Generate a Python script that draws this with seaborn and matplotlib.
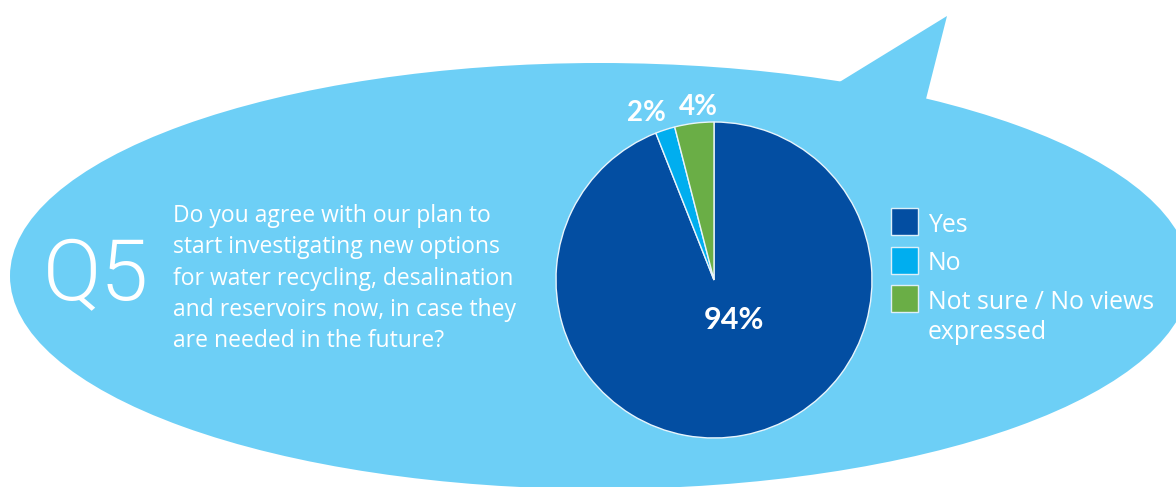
import matplotlib
matplotlib.use("Agg")
import matplotlib.pyplot as plt
from matplotlib.patches import Ellipse, Polygon, Rectangle
import seaborn as sns

# Survey answers for Q5
categories = ["Yes", "No", "Not sure / No views\nexpressed"]
shares = [94, 2, 4]
colors = ["#034EA2", "#00AEEF", "#6AAE46"]
question_lines = ["Do you agree with our plan to",
                  "start investigating new options",
                  "for water recycling, desalination",
                  "and reservoirs now, in case they",
                  "are needed in the future?"]
question_id = "Q5"

sns.set_style("white")
plt.rcParams["font.family"] = ["Open Sans", "DejaVu Sans"]

W, H = 1176, 487
fig = plt.figure(figsize=(W / 100, H / 100), dpi=100)
ax = fig.add_axes([0, 0, 1, 1])

def py(y):
    """Convert a top-down pixel row to the axes' upward y."""
    return H - y

bubble = "#6DCFF6"
# speech bubble body and tail
ax.add_patch(Ellipse((600, py(276)), 2 * 590, 2 * 213, facecolor=bubble,
                     edgecolor="none", zorder=0))
ax.add_patch(Polygon([(826, py(100)), (833, py(86)), (947, py(16)),
                      (925, py(103)), (935, py(125))], closed=True,
                     facecolor=bubble, edgecolor="none", zorder=0))

# pie
cx, cy, r = 714, py(280), 158
palette = sns.color_palette(colors)
wedges, _ = ax.pie(shares, colors=palette, startangle=90,
                   counterclock=False, center=(cx, cy), radius=r,
                   wedgeprops=dict(edgecolor="#E8F4FB", linewidth=1.0))

ax.set_xlim(0, W)
ax.set_ylim(0, H)
ax.set_aspect("auto")
ax.axis("off")

# value labels
label_pos = [(734, py(320)), (646, py(113)), (698, py(107))]
label_size = [22, 20, 20]
for v, (x, y), s in zip(shares, label_pos, label_size):
    ax.text(x, y, f"{v}%", color="white", fontsize=s, fontweight="bold",
            family=["Lato", "DejaVu Sans"],
            ha="center", va="center", zorder=5)

# question
ax.text(96, py(277), question_id, color="white", fontsize=62,
        fontweight=300, family=["Roboto", "DejaVu Sans"],
        ha="center", va="center")
for j, line in enumerate(question_lines):
    ax.text(173, py(222 + 31.3 * j), line, color="white", fontsize=16.5,
            ha="left", va="baseline")

# legend
for i, (lab, col) in enumerate(zip(categories, palette)):
    top = 208 + 38.5 * i
    ax.add_patch(Rectangle((891, py(top + 27)), 27, 27, facecolor=col,
                           edgecolor="#DDEFF8", linewidth=1.0, zorder=4))
    for k, part in enumerate(lab.split("\n")):
        ax.text(928, py(top + 24 + 30 * k), part, color="white",
                fontsize=17.9, ha="left", va="baseline")

fig.savefig("out.png", dpi=100, facecolor="white")
